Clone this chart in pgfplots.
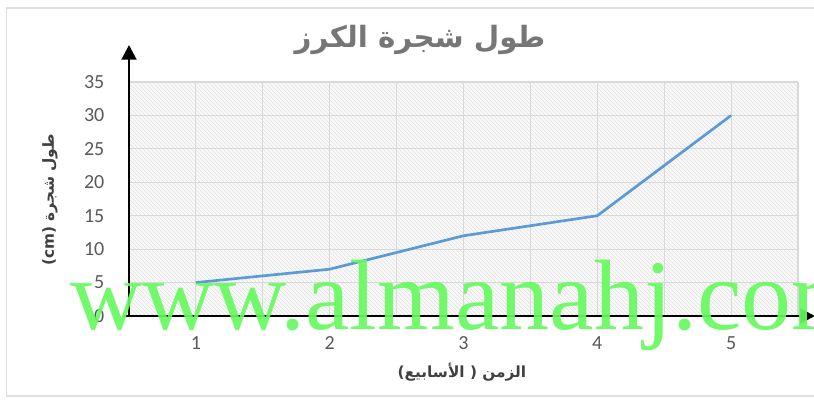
\documentclass[border=0pt]{standalone}
\usepackage{pgfplots}
\pgfplotsset{compat=1.18}
\usepackage{fontspec}
\setmainfont{Carlito}
\newfontfamily\arabicfont[Script=Arabic]{DejaVu Sans}
\newfontfamily\latinfont{DejaVu Sans}
\newfontfamily\wmfont{Liberation Serif}
\TeXXeTstate=1
\usetikzlibrary{arrows.meta,patterns}
\definecolor{linecol}{HTML}{5B9BD5}
\definecolor{tickcol}{HTML}{595959}
\definecolor{labcol}{HTML}{404040}
\definecolor{titlecol}{HTML}{767676}
\definecolor{gridcol}{HTML}{D9D9D9}
\definecolor{wmgreen}{RGB}{102,250,95}
\begin{document}
\begin{tikzpicture}
\path[use as bounding box] (0,0) rectangle (610.5pt,301.5pt);
\begin{scope}
\clip (0,0) rectangle (610.5pt,301.5pt);
\begin{axis}[
  at={(96.75pt,64.5pt)}, anchor=south west,
  scale only axis, width=501.75pt, height=175.5pt,
  xmin=0.5, xmax=5.5, ymin=0, ymax=35,
  xtick={1,2,3,4,5},
  minor xtick={0.5,1.5,2.5,3.5,4.5,5.5},
  ytick={0,5,...,35},
  grid=both,
  major grid style={gridcol, line width=0.8pt},
  minor grid style={gridcol, line width=0.8pt},
  major tick length=0pt, minor tick length=0pt,
  axis line style={draw=none},
  axis background/.style={fill=gray!5, postaction={pattern=north west lines, pattern color=gray!22}},
  /pgf/number format/assume math mode=true,
  ticklabel style={font=\fontsize{15pt}{16pt}\selectfont, text=tickcol},
  yticklabel style={xshift=-15pt},
  xticklabel style={yshift=-12pt},
]
\addplot[linecol, line width=2pt] coordinates {(1,5) (2,7) (3,12) (4,15) (5,30)};
\end{axis}
\begin{scope}[x=0.75pt,y=0.75pt]
\draw[gray!25, line width=1pt] (6.5,6) rectangle (830,394);
\draw[black, line width=2.2pt, -{Triangle[length=11,width=11]}] (129,85) -- (129,357);
\draw[black, line width=2.2pt, -{Triangle[length=11,width=11]}] (123,86) -- (815,86);
\node[text=titlecol] at (420,362) {\arabicfont\bfseries\fontsize{22pt}{24pt}\selectfont\beginR طول شجرة الكرز\endR};
\node[text=labcol, rotate=90] at (50,202) {\latinfont\bfseries\fontsize{11.5pt}{12pt}\selectfont (cm) {\arabicfont\beginR طول شجرة\endR}};
\node[text=labcol] at (462,30) {\latinfont\bfseries\fontsize{11.5pt}{12pt}\selectfont ({\arabicfont\beginR الأسابيع\endR} ) {\arabicfont\beginR الزمن\endR}};
\node[anchor=base west, text=wmgreen, opacity=0.92, inner sep=0pt] at (70,72) {\wmfont\fontsize{75pt}{75pt}\selectfont www.almanahj.com};
\end{scope}
\end{scope}
\end{tikzpicture}
\end{document}
